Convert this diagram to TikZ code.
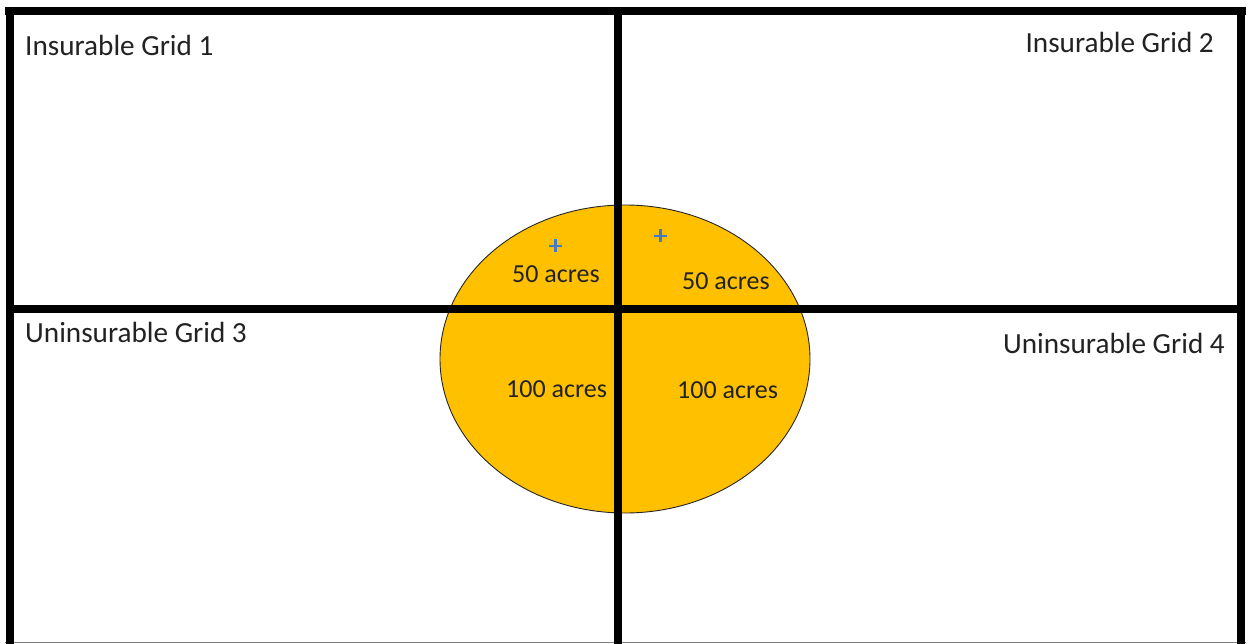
\documentclass[tikz,border=0pt]{standalone}
\usepackage{fontspec}
\setmainfont{Carlito}
\definecolor{gold}{HTML}{FFC000}
\definecolor{plusblue}{HTML}{4478C8}
\definecolor{txt}{HTML}{222222}
\begin{document}
\begin{tikzpicture}[x=1pt,y=-1pt,
  gridline/.style={line width=8pt,black},
  gridlabel/.style={font=\fontsize{29.2}{34}\selectfont,text=txt,inner sep=0pt},
  acrelabel/.style={font=\fontsize{26}{31}\selectfont,text=txt,inner sep=0pt},
  plusmark/.style={draw=plusblue,line width=2.6pt}]
\useasboundingbox (0,0) rectangle (1248,644);
\fill[white] (0,0) rectangle (1248,644);
% field ellipse
\draw[fill=gold,draw=black!85,line width=0.9pt] (625,359) ellipse [x radius=185, y radius=154];
% bottom thin edge
\draw[gray,line width=1.5pt] (5,642.5) -- (1246,642.5);
% grid lines
\coordinate (tl) at (5,11);
\coordinate (tr) at (1246,11);
\draw[gridline] (tl) -- (tr);
\draw[gridline] (10,7) -- (10,644);
\draw[gridline] (1241,7) -- (1241,644);
\draw[gridline] (618,7) -- (618,644);
\draw[gridline] (10,309) -- (1241,309);
% plus marks
\draw[plusmark] (549,246) -- (562,246) (555.5,239.5) -- (555.5,252.5);
\draw[plusmark] (654,236) -- (667,236) (660.5,229.5) -- (660.5,242.5);
% labels
\node[gridlabel,anchor=base west] (g1) at (25,56) {Insurable Grid 1};
\node[gridlabel,anchor=base east] (g2) at (1214,53) {Insurable Grid 2};
\node[gridlabel,anchor=base west] (g3) at (25,342) {Uninsurable Grid 3};
\node[gridlabel,anchor=base east] (g4) at (1225,353) {Uninsurable Grid 4};
\node[acrelabel,anchor=base west] (a1) at (512,283) {50 acres};
\node[acrelabel,anchor=base west] (a2) at (682,290) {50 acres};
\node[acrelabel,anchor=base west] (a3) at (506,397) {100 acres};
\node[acrelabel,anchor=base west] (a4) at (677,398) {100 acres};
\end{tikzpicture}
\end{document}
